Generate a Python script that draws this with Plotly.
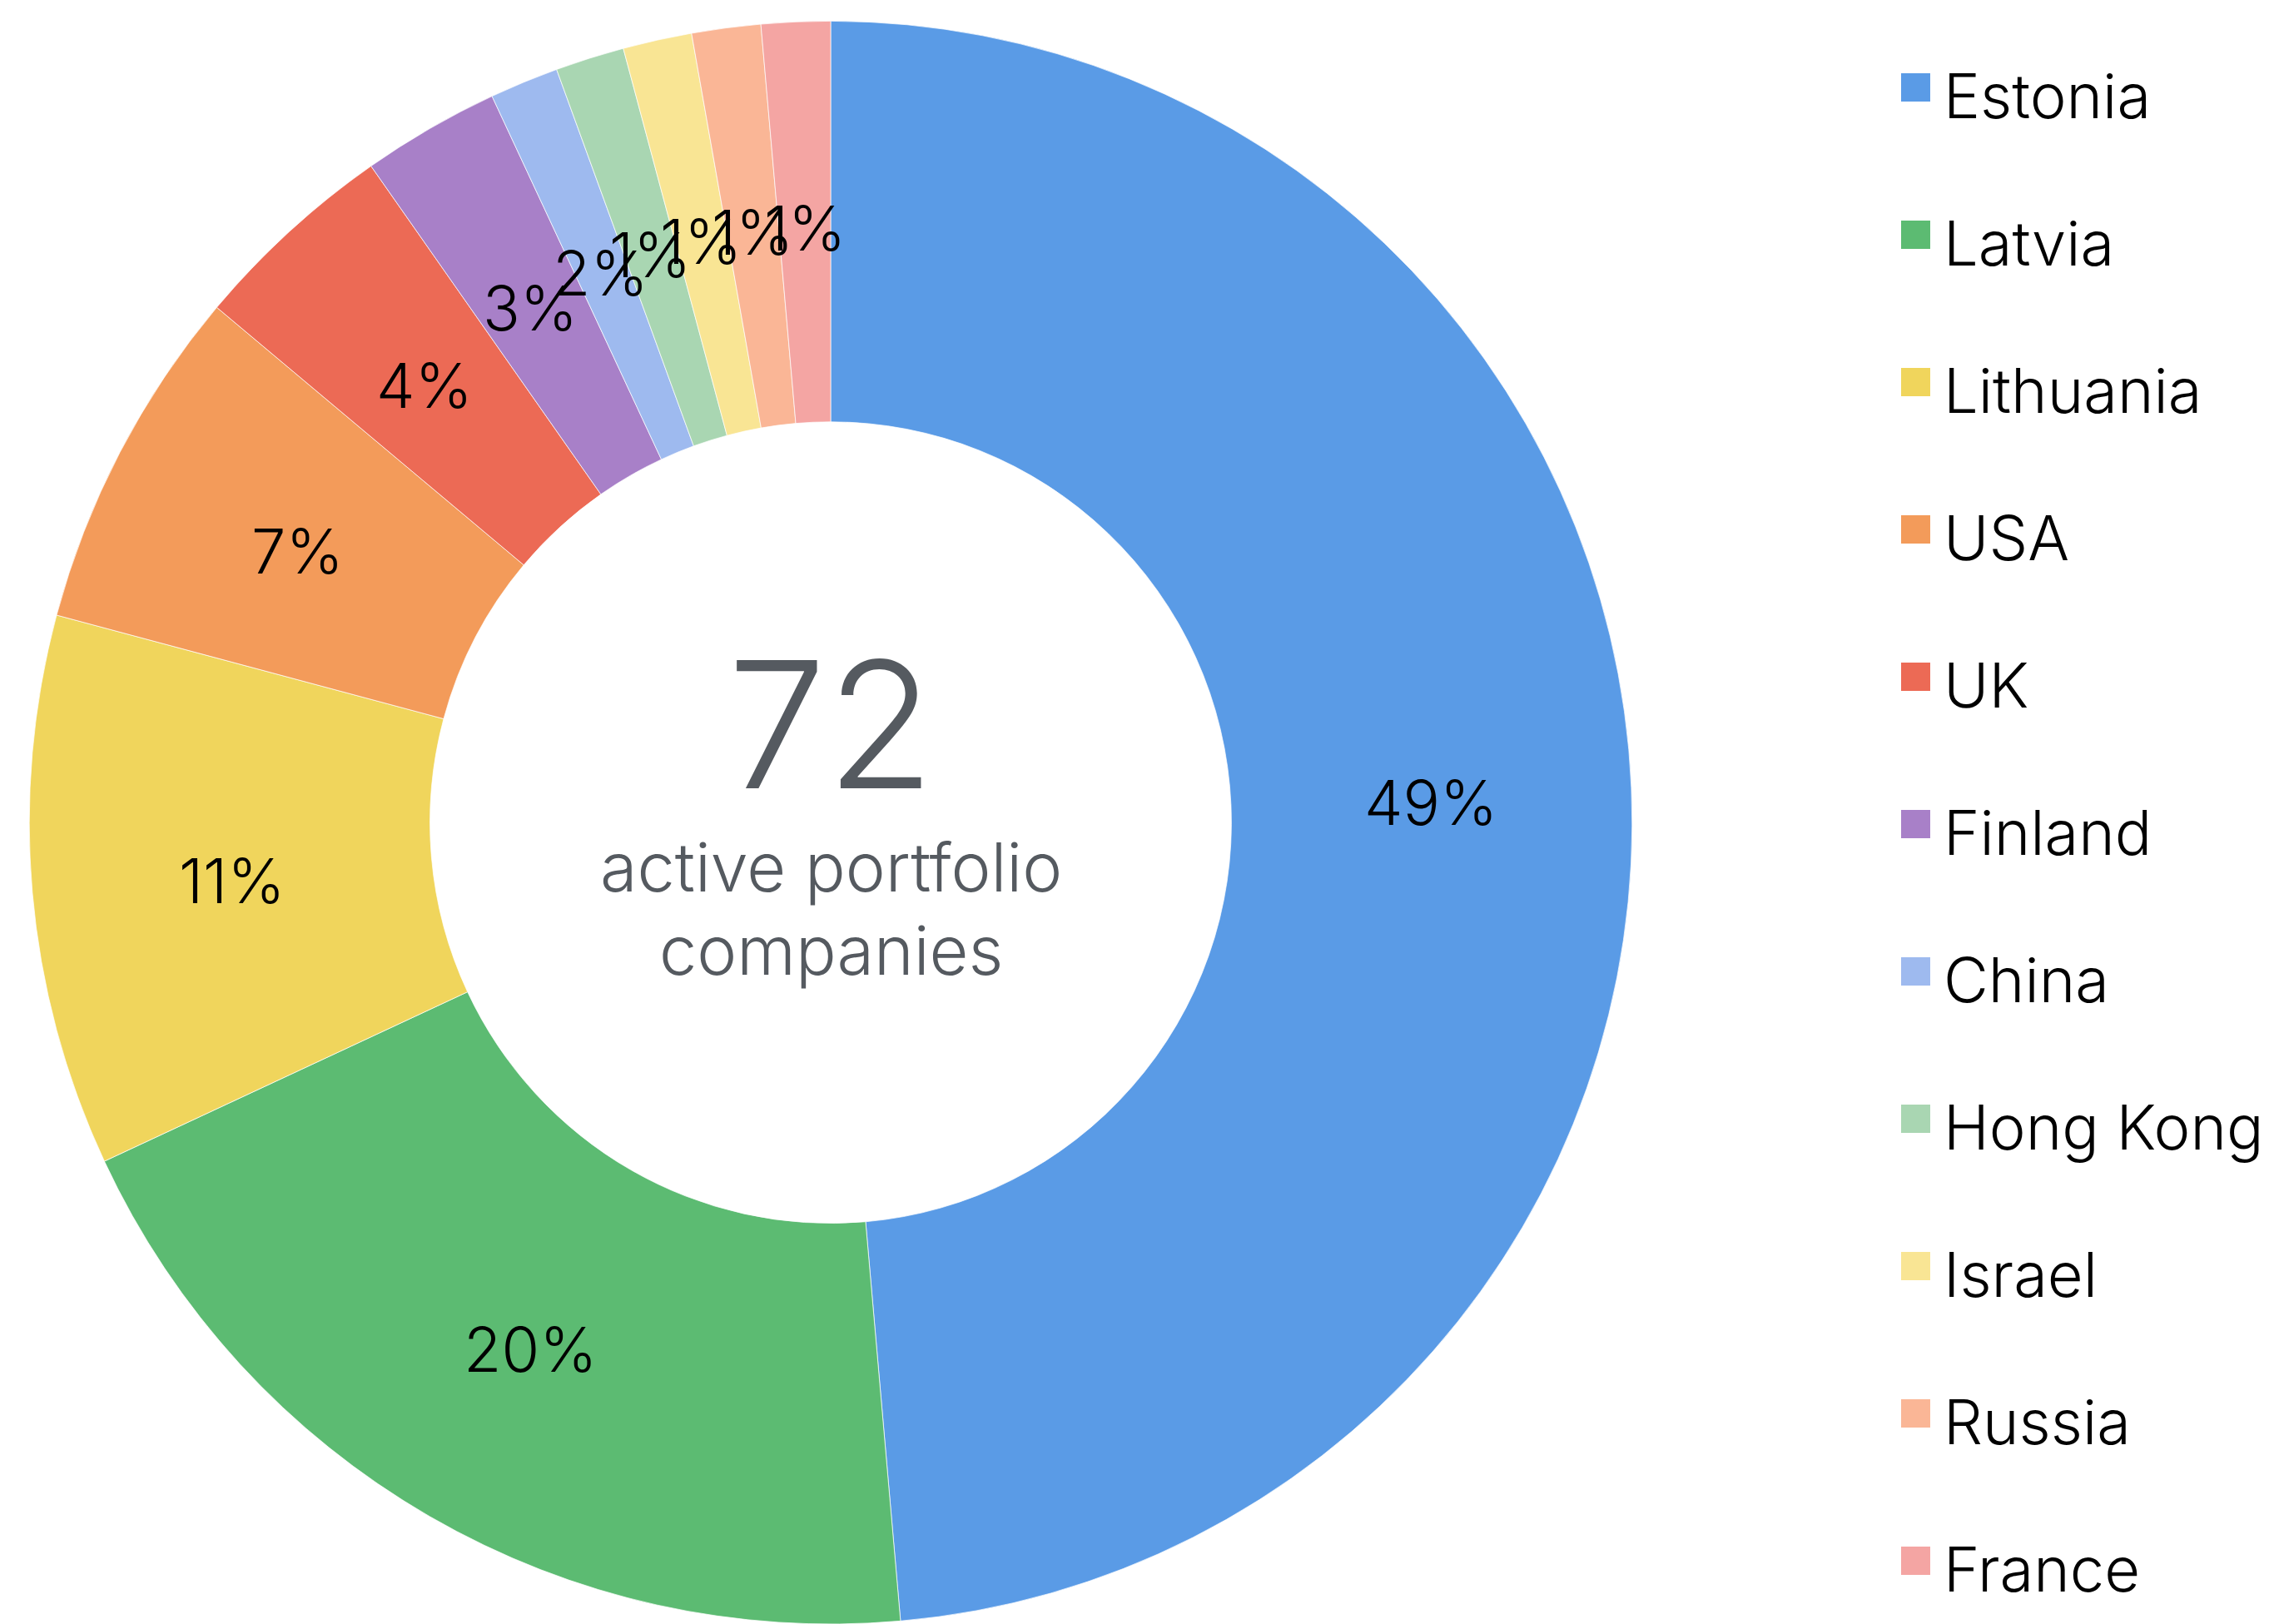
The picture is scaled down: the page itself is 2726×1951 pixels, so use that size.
import math
import plotly.graph_objects as go

# ---- data ----
countries = ["Estonia", "Latvia", "Lithuania", "USA", "UK", "Finland",
             "China", "Hong Kong", "Israel", "Russia", "France"]
companies = [35, 14, 8, 5, 3, 2, 1, 1, 1, 1, 1]
pct_labels = ["49%", "20%", "11%", "7%", "4%", "3%", "2%", "1%", "1%", "1%", "1%"]
colors = ["#5A9BE6", "#5CBB72", "#F0D55C", "#F39B5A", "#EC6A55", "#A880C8",
          "#9EBAEF", "#A9D6B2", "#F9E594", "#FAB696", "#F4A5A3"]
center_number = "72"
center_caption = ["active portfolio", "companies"]

W, H = 2726, 1951
FONT = "Inter, 'Liberation Sans', Arial, sans-serif"

dom_x = [0.01174, 0.72047]
dom_y = [0.0, 0.987]
hole = 0.5

fig = go.Figure(go.Pie(
    labels=countries,
    values=companies,
    sort=False,
    direction="clockwise",
    rotation=0,
    hole=hole,
    textinfo="none",
    marker=dict(colors=colors, line=dict(color="rgba(255,255,255,0.7)", width=1)),
    domain=dict(x=dom_x, y=dom_y),
    showlegend=False,
))

# pie geometry (paper/pixel) derived from domain
cx = (dom_x[0] + dom_x[1]) / 2 * W
cy = H * (1 - (dom_y[0] + dom_y[1]) / 2)
R = min((dom_x[1] - dom_x[0]) * W, (dom_y[1] - dom_y[0]) * H) / 2
r_lab = R * (1 + hole) / 2
text_dy = 7  # small downward nudge so glyphs sit centred like the reference

annotations = []
total = sum(companies)
cum = 0
for v, lab in zip(companies, pct_labels):
    theta = (cum + v / 2) / total * 2 * math.pi
    cum += v
    xp = cx + r_lab * math.sin(theta)
    yp = cy - r_lab * math.cos(theta) + text_dy
    annotations.append(dict(
        x=xp / W, y=1 - yp / H, xref="paper", yref="paper",
        text=lab, showarrow=False, xanchor="center", yanchor="middle",
        font=dict(family=FONT, size=74, color="#000000", weight=300)))

# center text
annotations.append(dict(
    x=cx / W, y=1 - 870 / H, xref="paper", yref="paper", text=center_number,
    showarrow=False, xanchor="center", yanchor="middle",
    font=dict(family=FONT, size=212, color="#555A60", weight=300)))
for i, line in enumerate(center_caption):
    annotations.append(dict(
        x=cx / W, y=1 - (1042 + 100 * i) / H, xref="paper", yref="paper", text=line,
        showarrow=False, xanchor="center", yanchor="middle",
        font=dict(family=FONT, size=81, color="#555A60", weight=300)))

# legend (drawn manually to match large swatches and spacing)
shapes = []
leg_top = 88
leg_step = 177
for i, (name, col) in enumerate(zip(countries, colors)):
    y0 = leg_top + i * leg_step
    shapes.append(dict(type="rect", xref="paper", yref="paper",
                       x0=2284 / W, x1=2319 / W, y0=1 - y0 / H, y1=1 - (y0 + 34) / H,
                       fillcolor=col, line=dict(width=0)))
    annotations.append(dict(
        x=2333 / W, y=1 - (y0 + 27) / H, xref="paper", yref="paper", text=name,
        showarrow=False, xanchor="left", yanchor="middle",
        font=dict(family=FONT, size=74, color="#000000", weight=300)))

fig.update_layout(
    width=W, height=H,
    margin=dict(l=0, r=0, t=0, b=0),
    paper_bgcolor="white", plot_bgcolor="white",
    annotations=annotations, shapes=shapes,
)

fig.write_html(
    "out.html",
    config={"displayModeBar": False},
    post_script="document.body.style.margin='0';document.body.style.overflow='hidden';",
)
